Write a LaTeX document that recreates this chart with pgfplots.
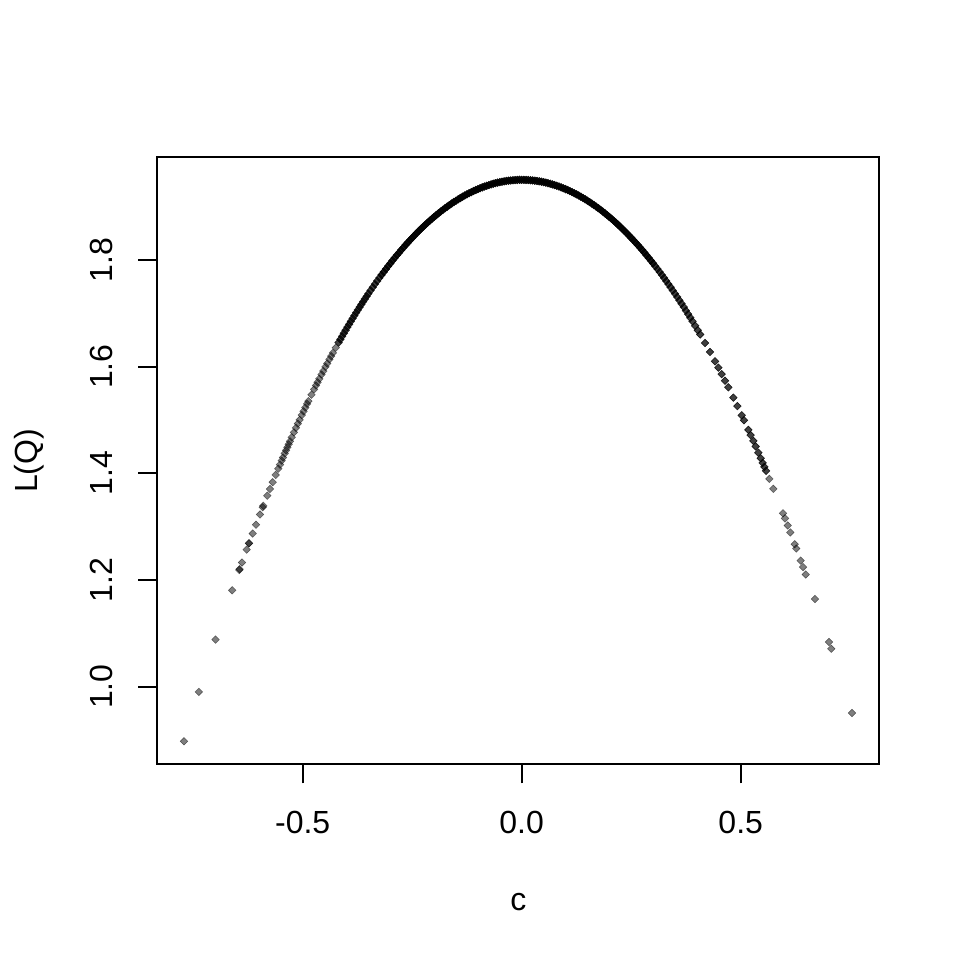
\documentclass[border=0pt]{standalone}
\usepackage{fontspec}
\setmainfont{Liberation Sans}
\usepackage{pgfplots}
\usepackage{pgfplotstable}
\pgfplotsset{compat=1.18}

\pgfplotstableread{
c L
-0.350 1.7369
-0.345 1.7429
-0.340 1.7489
-0.335 1.7548
-0.330 1.7607
-0.325 1.7664
-0.320 1.7720
-0.315 1.7776
-0.310 1.7830
-0.305 1.7884
-0.300 1.7937
-0.295 1.7989
-0.290 1.8040
-0.285 1.8090
-0.280 1.8139
-0.275 1.8188
-0.270 1.8235
-0.265 1.8282
-0.260 1.8327
-0.255 1.8372
-0.250 1.8416
-0.245 1.8459
-0.240 1.8502
-0.235 1.8543
-0.230 1.8584
-0.225 1.8623
-0.220 1.8662
-0.215 1.8700
-0.210 1.8737
-0.205 1.8773
-0.200 1.8808
-0.195 1.8842
-0.190 1.8876
-0.185 1.8909
-0.180 1.8940
-0.175 1.8971
-0.170 1.9001
-0.165 1.9030
-0.160 1.9059
-0.155 1.9086
-0.150 1.9112
-0.145 1.9138
-0.140 1.9163
-0.135 1.9187
-0.130 1.9210
-0.125 1.9232
-0.120 1.9253
-0.115 1.9273
-0.110 1.9293
-0.105 1.9312
-0.100 1.9329
-0.095 1.9346
-0.090 1.9362
-0.085 1.9378
-0.080 1.9392
-0.075 1.9405
-0.070 1.9418
-0.065 1.9430
-0.060 1.9441
-0.055 1.9451
-0.050 1.9460
-0.045 1.9468
-0.040 1.9475
-0.035 1.9482
-0.030 1.9487
-0.025 1.9492
-0.020 1.9496
-0.015 1.9499
-0.010 1.9501
-0.005 1.9503
0.000 1.9503
0.005 1.9503
0.010 1.9501
0.015 1.9499
0.020 1.9496
0.025 1.9492
0.030 1.9487
0.035 1.9482
0.040 1.9475
0.045 1.9468
0.050 1.9460
0.055 1.9451
0.060 1.9441
0.065 1.9430
0.070 1.9418
0.075 1.9405
0.080 1.9392
0.085 1.9378
0.090 1.9362
0.095 1.9346
0.100 1.9329
0.105 1.9312
0.110 1.9293
0.115 1.9273
0.120 1.9253
0.125 1.9232
0.130 1.9210
0.135 1.9187
0.140 1.9163
0.145 1.9138
0.150 1.9112
0.155 1.9086
0.160 1.9059
0.165 1.9030
0.170 1.9001
0.175 1.8971
0.180 1.8940
0.185 1.8909
0.190 1.8876
0.195 1.8842
0.200 1.8808
0.205 1.8773
0.210 1.8737
0.215 1.8700
0.220 1.8662
0.225 1.8623
0.230 1.8584
0.235 1.8543
0.240 1.8502
0.245 1.8459
0.250 1.8416
0.255 1.8372
0.260 1.8327
0.265 1.8282
0.270 1.8235
0.275 1.8188
0.280 1.8139
0.285 1.8090
0.290 1.8040
0.295 1.7989
0.300 1.7937
0.305 1.7884
0.310 1.7830
0.315 1.7776
0.320 1.7720
0.325 1.7664
0.330 1.7607
0.335 1.7548
0.340 1.7489
0.345 1.7429
0.350 1.7369
}\centertable

\pgfplotstableread{
c L
-0.771 0.8977
-0.737 0.9902
-0.699 1.0883
-0.661 1.1808
-0.6447 1.2188
-0.6440 1.2204
-0.6386 1.2328
-0.6279 1.2570
-0.6226 1.2688
-0.6226 1.2688
-0.6142 1.2872
-0.6066 1.3038
-0.5975 1.3230
-0.5913 1.3364
-0.5900 1.3391
-0.5808 1.3582
-0.5747 1.3707
-0.5685 1.3834
-0.5616 1.3971
-0.5557 1.4088
-0.5518 1.4164
-0.548 1.4239
-0.545 1.4297
-0.541 1.4374
-0.538 1.4431
-0.535 1.4488
-0.532 1.4545
-0.529 1.4601
-0.525 1.4675
-0.520 1.4768
-0.5153 1.4853
-0.511 1.4932
-0.507 1.5004
-0.502 1.5093
-0.498 1.5163
-0.494 1.5234
-0.490 1.5303
-0.487 1.5354
-0.480 1.5474
-0.474 1.5575
-0.4696 1.5648
-0.466 1.5707
-0.462 1.5773
-0.457 1.5853
-0.453 1.5917
-0.448 1.5997
-0.444 1.6060
-0.439 1.6137
-0.435 1.6198
-0.431 1.6259
-0.4245 1.6357
-0.418 1.6453
-0.414 1.6512
-0.410 1.6569
-0.406 1.6627
-0.402 1.6683
-0.398 1.6740
-0.394 1.6795
-0.390 1.6850
-0.386 1.6905
-0.382 1.6958
-0.378 1.7012
-0.374 1.7064
-0.370 1.7117
-0.366 1.7168
-0.362 1.7219
-0.358 1.7269
-0.354 1.7319
}\lefttable

\pgfplotstableread{
c L
0.355 1.7307
0.360 1.7244
0.365 1.7181
0.370 1.7117
0.375 1.7051
0.380 1.6985
0.385 1.6918
0.390 1.6850
0.396 1.6767
0.402 1.6683
0.4075 1.6605
0.4186 1.6444
0.4299 1.6276
0.4414 1.6100
0.449 1.5981
0.4566 1.5860
0.4642 1.5737
0.4718 1.5614
0.4832 1.5419
0.4924 1.5262
0.5023 1.5088
0.5075 1.4995
0.5174 1.4816
0.5227 1.4718
0.5289 1.4609
0.5342 1.4505
0.5403 1.4387
0.5457 1.4283
0.5502 1.4196
0.5540 1.4121
0.5578 1.4047
0.5653 1.3897
0.5745 1.3711
0.5966 1.3251
0.6011 1.3156
0.6073 1.3023
0.6133 1.2892
0.6233 1.2672
0.6270 1.2591
0.6370 1.2364
0.6423 1.2243
0.6484 1.2103
0.6696 1.1644
0.7016 1.0838
0.7069 1.0712
0.7541 0.9507
}\righttable

\pgfplotsset{
  ptstyle/.style={only marks, mark=square*, mark size=2.0pt,
    mark options={rotate=45, draw=none, fill=black, opacity=0.5}},
}

\begin{document}
\begin{tikzpicture}
\useasboundingbox (-118.05pt,-146.85pt) rectangle (601.95pt,573.15pt);
\begin{axis}[
  at={(0pt,0pt)}, anchor=south west,
  scale only axis,
  width=541.5pt, height=455.1pt,
  xmin=-0.8317, xmax=0.8167,
  ymin=0.8547, ymax=1.9924,
  axis line style={line width=1.5pt},
  every tick/.style={black, line width=1.5pt},
  tick align=outside,
  major tick length=14.4pt,
  xtick pos=bottom, ytick pos=left,
  xtick={-0.5,0,0.5},
  xticklabels={-0.5,0.0,0.5},
  ytick={1.0,1.2,1.4,1.6,1.8},
  yticklabels={1.0,1.2,1.4,1.6,1.8},
  tick label style={font=\fontsize{24}{28.8}\selectfont},
  label style={font=\fontsize{24}{28.8}\selectfont},
  xticklabel style={anchor=base, yshift=-37.6pt},
  yticklabel style={xshift=-19.5pt, rotate=90, anchor=base},
  xlabel={c},
  ylabel={L(Q)},
  xlabel style={at={(axis description cs:0.5,-0.2404)}, anchor=base},
  ylabel style={at={(axis description cs:-0.1655,0.5)}, rotate=0, anchor=base},
  clip=false,
]
\addplot[ptstyle] table[x=c,y=L] {\centertable};
\addplot[ptstyle] table[x=c,y=L] {\centertable};
\addplot[ptstyle, restrict x to domain=-0.32:0.30] table[x=c,y=L] {\centertable};
\addplot[ptstyle] table[x=c,y=L] {\lefttable};
\addplot[ptstyle] table[x=c,y=L] {\righttable};
\addplot[ptstyle, restrict x to domain=0.35:0.56] table[x=c,y=L] {\righttable};
\addplot[ptstyle, restrict x to domain=-0.42:-0.35] table[x=c,y=L] {\lefttable};
\end{axis}
\end{tikzpicture}
\end{document}
